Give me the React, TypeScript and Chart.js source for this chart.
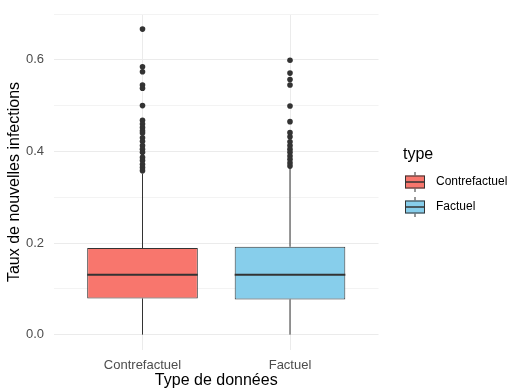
import React, { useEffect, useRef } from "react";
import { Chart, registerables } from "chart.js";

Chart.register(...registerables);

// ---------- data ----------
const categories = ["Contrefactuel", "Factuel"];
const boxColors = ["#F8766D", "#87CEEB"];
const q1 = [0.079, 0.077];
const medians = [0.131, 0.131];
const q3 = [0.189, 0.192];
const whiskerLow = [0.0, 0.0];
const whiskerHigh = [0.352, 0.363];
const outliersContrefactuel = [
  0.667, 0.585, 0.574, 0.545, 0.538, 0.5, 0.468, 0.46, 0.452, 0.445, 0.44,
  0.43, 0.422, 0.413, 0.405, 0.398, 0.387, 0.38, 0.372, 0.365, 0.358,
];
const outliersFactuel = [
  0.599, 0.571, 0.557, 0.545, 0.499, 0.465, 0.441, 0.432, 0.421, 0.413, 0.405,
  0.398, 0.39, 0.383, 0.375, 0.368,
];
const outlierSets = [outliersContrefactuel, outliersFactuel];
const yGridValues = [0, 0.1, 0.2, 0.3, 0.4, 0.5, 0.6, 0.7];
const yLabelValues = [0, 0.2, 0.4, 0.6];
const yMin = -0.0335;
const yMax = 0.7;
const xMin = 0.4;
const xMax = 2.6;
const boxWidth = 0.75;
const xTitle = "Type de données";
const yTitle = "Taux de nouvelles infections";
const legendTitle = "type";

const FONT = "'Liberation Sans', Arial, Helvetica, sans-serif";
const DARK = "#333333";

const legendPlugin = {
  id: "ggLegend",
  afterDraw(chart: any) {
    const ctx = chart.ctx;
    ctx.save();
    ctx.fillStyle = "#000000";
    ctx.font = `16px ${FONT}`;
    ctx.textAlign = "left";
    ctx.textBaseline = "alphabetic";
    ctx.fillText(legendTitle, 403, 158.5);
    categories.forEach((cat, i) => {
      const cy = 182 + i * 25;
      const left = 405;
      const w = 20;
      const h = 13;
      const cx = left + w / 2;
      ctx.strokeStyle = DARK;
      ctx.lineWidth = 1;
      ctx.beginPath();
      ctx.moveTo(cx, cy - 10);
      ctx.lineTo(cx, cy - h / 2);
      ctx.moveTo(cx, cy + h / 2);
      ctx.lineTo(cx, cy + 10);
      ctx.stroke();
      ctx.fillStyle = boxColors[i];
      ctx.fillRect(left, cy - h / 2, w, h);
      ctx.strokeRect(left + 0.5, cy - h / 2 + 0.5, w - 1, h - 1);
      ctx.lineWidth = 1.5;
      ctx.beginPath();
      ctx.moveTo(left, cy);
      ctx.lineTo(left + w, cy);
      ctx.stroke();
      ctx.fillStyle = "#000000";
      ctx.font = `12px ${FONT}`;
      ctx.textBaseline = "middle";
      ctx.fillText(cat, 436, cy);
    });
    ctx.restore();
  },
};

export default function App() {
  const ref = useRef<HTMLCanvasElement | null>(null);

  useEffect(() => {
    document.body.style.margin = "0";
    const canvas = ref.current;
    if (!canvas) return;

    const datasets: any[] = [];
    categories.forEach((cat, i) => {
      const x = i + 1;
      datasets.push({
        type: "line",
        label: `${cat} upper whisker`,
        data: [
          { x, y: q3[i] },
          { x, y: whiskerHigh[i] },
        ],
        borderColor: DARK,
        borderWidth: 1,
        pointRadius: 0,
        order: 4,
      });
      datasets.push({
        type: "line",
        label: `${cat} lower whisker`,
        data: [
          { x, y: whiskerLow[i] },
          { x, y: q1[i] },
        ],
        borderColor: DARK,
        borderWidth: 1,
        pointRadius: 0,
        order: 4,
      });
      datasets.push({
        type: "line",
        label: `${cat} median`,
        data: [
          { x: x - boxWidth / 2, y: medians[i] },
          { x: x + boxWidth / 2, y: medians[i] },
        ],
        borderColor: DARK,
        borderWidth: 2,
        pointRadius: 0,
        order: 0,
      });
      datasets.push({
        type: "scatter",
        label: `${cat} outliers`,
        data: outlierSets[i].map((v) => ({ x, y: v })),
        backgroundColor: DARK,
        borderWidth: 0,
        pointRadius: 2.8,
        order: 1,
      });
    });
    datasets.push({
      type: "bar",
      label: "boxes",
      data: categories.map((_, i) => ({ x: i + 1, y: [q1[i], q3[i]] })),
      backgroundColor: boxColors,
      borderColor: DARK,
      borderWidth: 1,
      borderSkipped: false,
      barPercentage: boxWidth,
      categoryPercentage: 1,
      grouped: false,
      order: 2,
    });

    const chart = new Chart(canvas, {
      type: "bar",
      data: { datasets },
      plugins: [legendPlugin],
      options: {
        animation: false,
        responsive: false,
        devicePixelRatio: 1,
        layout: { padding: { top: 14, right: 138.5, bottom: 0, left: 0 } },
        plugins: { legend: { display: false }, tooltip: { enabled: false } },
        scales: {
          x: {
            type: "linear",
            min: xMin,
            max: xMax,
            offset: false,
            afterBuildTicks: (s: any) => {
              s.ticks = categories.map((_, i) => ({ value: i + 1 }));
            },
            afterFit: (s: any) => {
              s.height = 41;
              s.paddingLeft = 0;
              s.paddingRight = 0;
            },
            ticks: {
              callback: (v: any) => categories[Math.round(Number(v)) - 1] ?? "",
              color: "#4d4d4d",
              font: { family: FONT, size: 13 },
              padding: 8,
              maxRotation: 0,
            },
            grid: { color: "#ebebeb", lineWidth: 1, drawTicks: false, offset: false },
            border: { display: false },
            title: {
              display: true,
              text: xTitle,
              color: "#000000",
              font: { family: FONT, size: 16 },
              padding: { top: 0, bottom: 1 },
            },
          },
          y: {
            type: "linear",
            min: yMin,
            max: yMax,
            afterBuildTicks: (s: any) => {
              s.ticks = yGridValues.map((v) => ({ value: v }));
            },
            afterFit: (s: any) => {
              s.width = 54;
              s.paddingTop = 0;
              s.paddingBottom = 0;
            },
            ticks: {
              callback: (v: any) => {
                const n = Number(v);
                return yLabelValues.some((l) => Math.abs(l - n) < 1e-9) ? n.toFixed(1) : "";
              },
              color: "#4d4d4d",
              font: { family: FONT, size: 13 },
              padding: 10,
            },
            grid: {
              color: (c: any) =>
                yLabelValues.some((l) => Math.abs(l - c.tick?.value) < 1e-9) ? "#ebebeb" : "#f3f3f3",
              lineWidth: 1,
              drawTicks: false,
            },
            border: { display: false },
            title: {
              display: true,
              text: yTitle,
              color: "#000000",
              font: { family: FONT, size: 16 },
              padding: { top: 5, bottom: 0 },
            },
          },
        },
      } as any,
    });
    return () => chart.destroy();
  }, []);

  return (
    <canvas
      ref={ref}
      width={517}
      height={391}
      style={{ display: "block", width: 517, height: 391 }}
    />
  );
}
